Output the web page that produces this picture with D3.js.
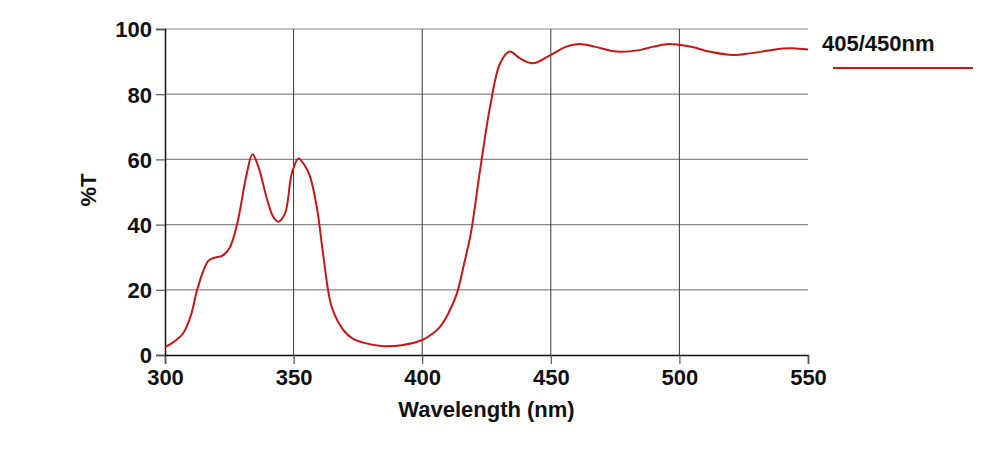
<!DOCTYPE html>
<html>
<head>
<meta charset="utf-8">
<script src="https://cdn.jsdelivr.net/npm/d3@7"></script>
<style>
  body { margin: 0; background: #fff; }
  text { font-family: "Liberation Sans", Arial, sans-serif; font-weight: bold; fill: #111; }
</style>
</head>
<body>
<svg id="chart" width="1000" height="451"></svg>
<script>
// wavelength (nm) and transmission (%T)
const wavelength = [300, 303, 307, 310, 312.5, 315, 317, 320, 322, 325, 328, 331.8, 334, 336.3, 339.6, 342, 344.1, 346.7, 349.3, 351.9, 354, 356.2, 359, 361.6, 364.8, 369.3, 373, 377, 385, 392, 400, 404, 407, 410, 413.5, 416, 418.9, 422.5, 426.4, 430.3, 434, 438, 443, 449.8, 456, 461, 467, 473, 477, 485, 490, 496, 500, 505, 512, 521, 528, 534, 540, 544, 550];
const transmission = [2.5, 3.8, 6.6, 12, 20, 26, 29, 30, 30.3, 32.7, 40, 55.7, 61.6, 57.8, 48, 42.5, 40.9, 43.5, 55.7, 60.3, 58.5, 55.2, 45.5, 30.2, 14.8, 7.7, 5, 3.8, 2.7, 3, 4.6, 6.5, 8.7, 12.5, 18.9, 27, 37.3, 56.7, 76.2, 89.5, 93.1, 91, 89.5, 92, 94.6, 95.4, 94.6, 93.4, 93.0, 93.6, 94.6, 95.4, 95.1, 94.5, 93, 92, 92.6, 93.3, 94, 94.1, 93.7];
const xTicks = [300, 350, 400, 450, 500, 550];
const yTicks = [0, 20, 40, 60, 80, 100];
const seriesName = "405/450nm";

const svg = d3.select("#chart");
const margin = {top: 29, right: 192, bottom: 96, left: 165};
const width = 1000 - margin.left - margin.right,
      height = 451 - margin.top - margin.bottom;

const g = svg.append("g").attr("transform", "translate(" + margin.left + "," + margin.top + ")");

const x = d3.scaleLinear().domain([300, 550]).range([0, width]);
const y = d3.scaleLinear().domain([0, 100]).range([height, 0]);

// horizontal grid
g.append("g").selectAll("line")
  .data(yTicks.filter(d => d > 0))
  .enter().append("line")
  .attr("x1", 0).attr("x2", width)
  .attr("y1", d => y(d)).attr("y2", d => y(d))
  .attr("stroke", "#8a8a8a").attr("stroke-width", 1.2);

// vertical grid
g.append("g").selectAll("line")
  .data(xTicks.filter(d => d > 300 && d < 550))
  .enter().append("line")
  .attr("x1", d => x(d)).attr("x2", d => x(d))
  .attr("y1", 0).attr("y2", height)
  .attr("stroke", "#3a3a3a").attr("stroke-width", 1);

// axes
const xAxis = g.append("g")
  .attr("transform", "translate(0," + height + ")")
  .call(d3.axisBottom(x).tickValues(xTicks).tickSize(9).tickPadding(5));
const yAxis = g.append("g")
  .call(d3.axisLeft(y).tickValues(yTicks).tickSize(9).tickPadding(4));

[xAxis, yAxis].forEach(a => {
  a.select(".domain").attr("stroke", "#111").attr("stroke-width", 1.5);
  a.selectAll(".tick line").attr("stroke", "#555").attr("stroke-width", 1.2);
  a.selectAll(".tick text").attr("font-size", 22).attr("font-family", "Liberation Sans, Arial, sans-serif").attr("font-weight", "bold").attr("fill", "#111");
});
yAxis.selectAll(".tick text").attr("dy", "0.36em");

// curve
const data = wavelength.map((w, i) => ({w: w, t: transmission[i]}));
const line = d3.line()
  .x(d => x(d.w))
  .y(d => y(d.t))
  .curve(d3.curveCatmullRom.alpha(0.5));

g.append("path")
  .datum(data)
  .attr("fill", "none")
  .attr("stroke", "#cc1414")
  .attr("stroke-width", 2)
  .attr("d", line);

// axis titles
svg.append("text")
  .attr("x", margin.left + width / 2)
  .attr("y", 417)
  .attr("text-anchor", "middle")
  .attr("font-size", 22)
  .text("Wavelength (nm)");

svg.append("text")
  .attr("transform", "translate(96,190) rotate(-90)")
  .attr("text-anchor", "middle")
  .attr("font-size", 22)
  .text("%T");

// legend
svg.append("text")
  .attr("x", 822)
  .attr("y", 51)
  .attr("font-size", 22)
  .text(seriesName);
svg.append("line")
  .attr("x1", 833).attr("x2", 973)
  .attr("y1", 68).attr("y2", 68)
  .attr("stroke", "#cc1414").attr("stroke-width", 2);
</script>
</body>
</html>
